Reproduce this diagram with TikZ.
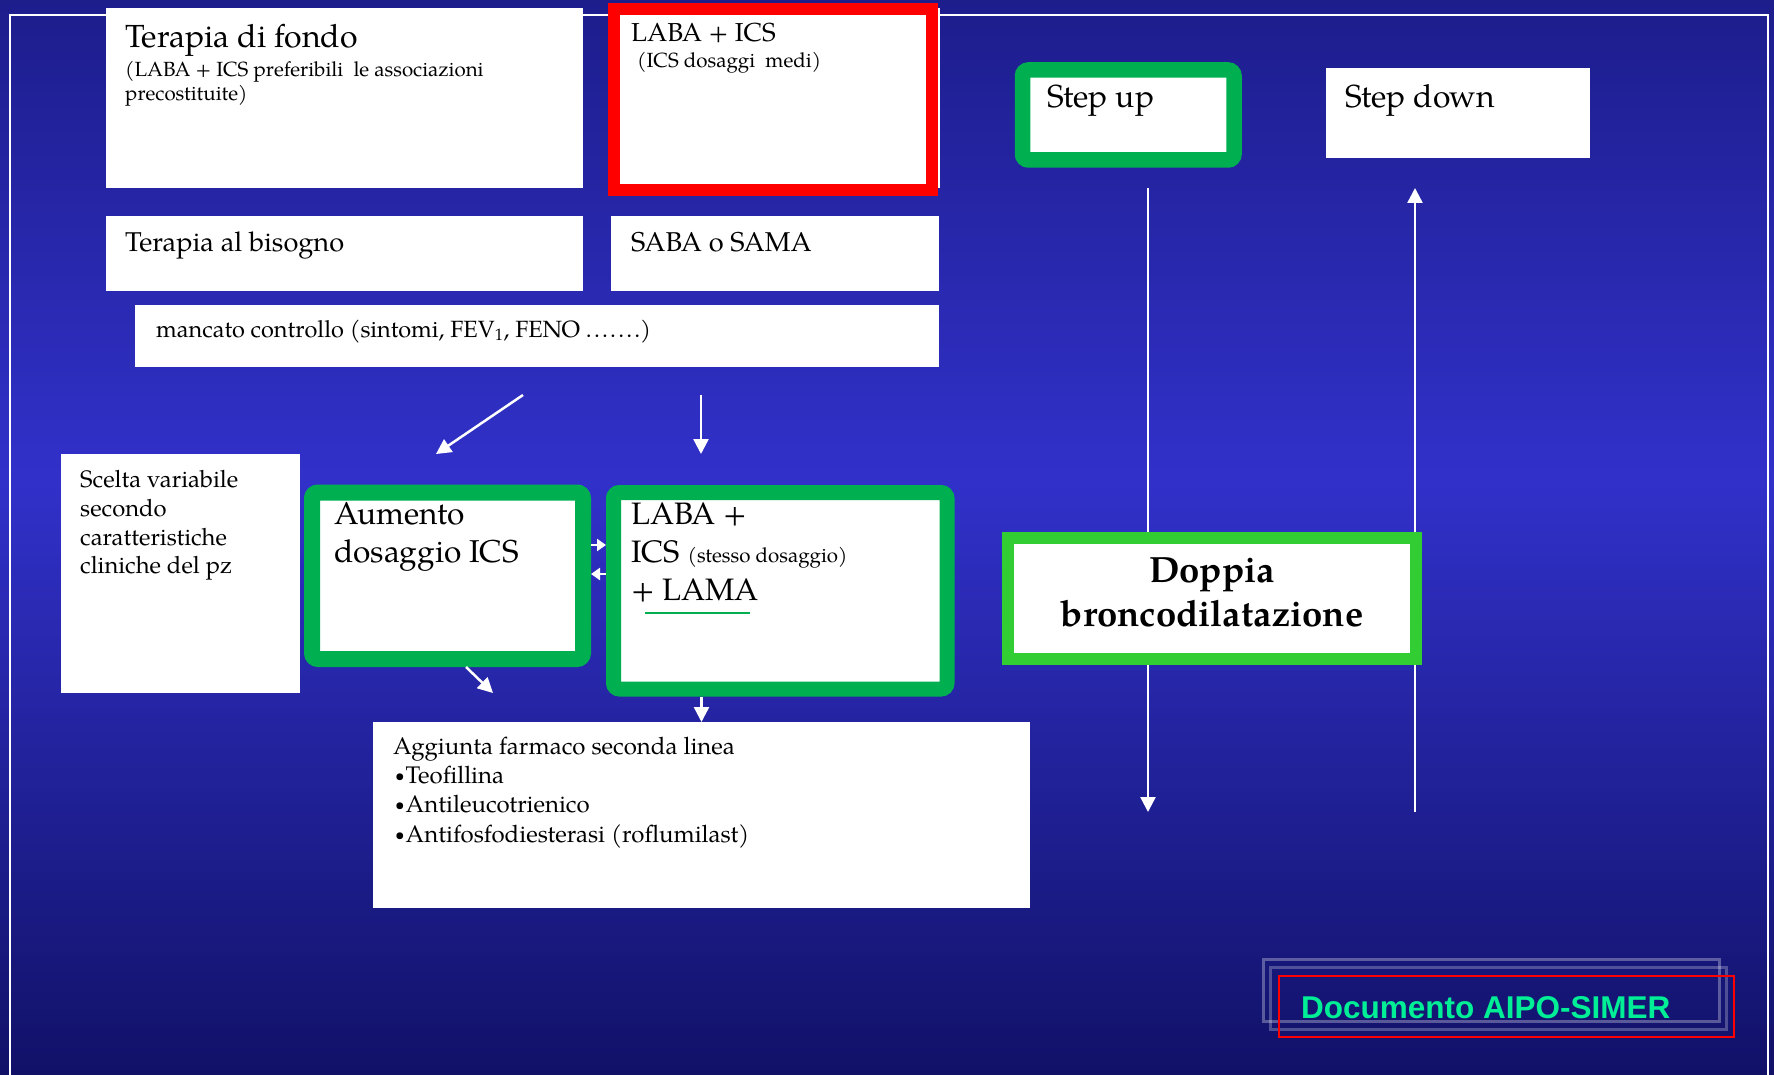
\documentclass[tikz,border=0pt]{standalone}
\usepackage{fontspec}
\setmainfont{TeX Gyre Pagella}
\newfontfamily\docfont{Liberation Sans}
\usetikzlibrary{arrows.meta}
\definecolor{bgtop}{RGB}{29,29,140}
\definecolor{bgmid}{RGB}{49,49,202}
\definecolor{bgbot}{RGB}{17,17,104}
\definecolor{ogreen}{RGB}{0,176,80}
\definecolor{lgreen}{RGB}{50,205,50}
\definecolor{doccol}{RGB}{0,238,150}
\newcommand\fsz[1]{\fontsize{#1}{#1}\selectfont}
\newcommand\smbul{\raisebox{1.5pt}{\fsz{17}\textbullet}\hspace{1pt}}
\newcommand\dotrow{.\hspace{2.2pt}.\hspace{2.2pt}.\hspace{2.2pt}.\hspace{2.2pt}.\hspace{2.2pt}.\hspace{2.2pt}.}
\begin{document}
\begin{tikzpicture}[x=1pt,y=-1pt,
  wbox/.style={draw=none,fill=white,inner sep=0pt,outer sep=0pt},
  gbox/.style={draw=ogreen,fill=white,line width=16pt,rounded corners=6pt,inner sep=0pt},
  rbox/.style={draw=red,line width=12pt,inner sep=0pt},
  dbox/.style={draw=lgreen,fill=white,line width=12pt,inner sep=0pt},
  txt/.style={inner sep=0pt,anchor=base west,text=black},
  arr/.style={draw=white,line width=2.5pt,-{Triangle[width=15pt,length=15pt]}},
  sarr/.style={draw=white,line width=2.5pt,-{Triangle[width=12pt,length=9pt]}},
]
\useasboundingbox (0,0) rectangle (1774,1075);
% background
\shade[top color=bgtop,bottom color=bgmid] (0,0) rectangle (1774,480);
\shade[top color=bgmid,bottom color=bgbot] (0,479) rectangle (1774,1075);
\draw[white,line width=2pt] (10,1075) -- (10,15) -- (1768,15) -- (1768,1075);

% step lines (behind boxes)
\coordinate (suTop) at (1148,188);
\coordinate (suBot) at (1148,812);
\coordinate (sdBot) at (1415,812);
\coordinate (sdTop) at (1415,188);
\draw[arr] (suTop) -- (suBot);
\draw[arr] (sdBot) -- (sdTop);

% boxes
\node[wbox,minimum width=477pt,minimum height=180pt] (fondo) at (344.5,98) {};
\node[wbox,minimum width=329pt,minimum height=180pt] (labaw) at (775.5,98) {};
\node[rbox,minimum width=317.5pt,minimum height=181.5pt] (labar) at (772.75,99.75) {};
\node[wbox,minimum width=477pt,minimum height=75pt] (bisogno) at (344.5,253.5) {};
\node[wbox,minimum width=328pt,minimum height=75pt] (saba) at (775,253.5) {};
\node[wbox,minimum width=804pt,minimum height=62pt] (mancato) at (537,336) {};
\node[wbox,minimum width=239pt,minimum height=239pt] (scelta) at (180.5,573.5) {};
\node[gbox,minimum width=271pt,minimum height=166.5pt] (aum) at (447.5,575.75) {};
\node[gbox,line width=15pt,minimum width=333.5pt,minimum height=196.5pt] (lama) at (780.25,590.75) {};
\node[wbox,minimum width=657pt,minimum height=186pt] (agg) at (701.5,815) {};
\node[gbox,line width=15.5pt,minimum width=211.5pt,minimum height=90pt] (stepup) at (1128.25,115) {};
\node[wbox,minimum width=264pt,minimum height=90pt] (stepdown) at (1458,113) {};
\node[dbox,minimum width=408pt,minimum height=120.5pt] (doppia) at (1212,598.25) {};

% texts
\node[txt,font=\fsz{32}] (t1) at (125,48) {Terapia di fondo};
\node[txt,font=\fsz{20.5}] (t2) at (125,77) {(LABA + ICS preferibili\ \ le associazioni};
\node[txt,font=\fsz{20.5}] (t3) at (125,101) {precostituite)};
\node[txt,font=\fsz{26}] (t4) at (631,42) {LABA + ICS};
\node[txt,font=\fsz{20.5}] (t5) at (637,68) {(ICS dosaggi\ \ medi)};
\node[txt,font=\fsz{27.2}] (t6) at (125,252) {Terapia al bisogno};
\node[txt,font=\fsz{27.2}] (t7) at (631,252) {SABA o SAMA};
\node[txt,font=\fsz{23.5}] (t8) at (156,337) {mancato controllo (sintomi, FEV\textsubscript{1}, FENO \dotrow)};
\node[txt,font=\fsz{23.8}] (t9) at (80,487) {Scelta variabile};
\node[txt,font=\fsz{23.8}] (t10) at (80,516) {secondo};
\node[txt,font=\fsz{23.8}] (t11) at (80,545) {caratteristiche};
\node[txt,font=\fsz{23.8}] (t12) at (80,573) {cliniche del pz};
\node[txt,font=\fsz{31.6}] (t13) at (334,524) {Aumento};
\node[txt,font=\fsz{31.6}] (t14) at (334,562) {dosaggio ICS};
\node[txt,font=\fsz{31}] (t15) at (631,524) {LABA +};
\node[txt,font=\fsz{31}] (t16) at (631,562) {ICS {\fsz{20.5}(stesso dosaggio)}};
\node[txt,font=\fsz{31}] (t17) at (631,600) {+ LAMA};
\node[txt,font=\fsz{24}] (t18) at (393,754) {Aggiunta farmaco seconda linea};
\node[txt,font=\fsz{24}] (t19) at (395,783) {\smbul Teofillina};
\node[txt,font=\fsz{24}] (t20) at (395,812) {\smbul Antileucotrienico};
\node[txt,font=\fsz{24}] (t21) at (395,842) {\smbul Antifosfodiesterasi (roflumilast)};
\node[txt,font=\fsz{31.8}] (t22) at (1047,108) {Step up};
\node[txt,font=\fsz{31.8}] (t23) at (1345,108) {Step down};
\node[inner sep=0pt,anchor=base,font=\fsz{36.5}\bfseries] (t24) at (1212,582) {Doppia};
\node[inner sep=0pt,anchor=base,font=\fsz{36.5}\bfseries] (t25) at (1212,626) {broncodilatazione};
\draw[ogreen,line width=2pt] (645,613) -- (750,613);

% arrows
\coordinate (d1) at (523,395);
\coordinate (d2) at (436,454);
\coordinate (v1) at (701,395);
\coordinate (v2) at (701,454);
\coordinate (b1) at (466,667);
\coordinate (b2) at (493,693);
\coordinate (ya) at (0,545);
\coordinate (yb) at (0,574);
\draw[arr] (d1) -- (d2);
\draw[arr] (v1) -- (v2);
\draw[arr] (b1) -- (b2);
\draw[arr] (lama.south -| agg.north) -- (agg.north);
\draw[sarr] (aum.east |- ya) -- (lama.west |- ya);
\draw[sarr] (lama.west |- yb) -- (aum.east |- yb);

% Documento AIPO-SIMER
\draw[white,opacity=0.3,line width=3pt] (1263,959) rectangle (1719,1021);
\draw[white,opacity=0.25,line width=3pt] (1270,967) rectangle (1726,1029);
\draw[red,line width=2pt] (1279,976) rectangle (1734,1037);
\node[inner sep=0pt,anchor=base west,text=doccol,font=\docfont\bfseries\fsz{31.5}] (doc) at (1301,1018) {Documento AIPO-SIMER};
\end{tikzpicture}
\end{document}
